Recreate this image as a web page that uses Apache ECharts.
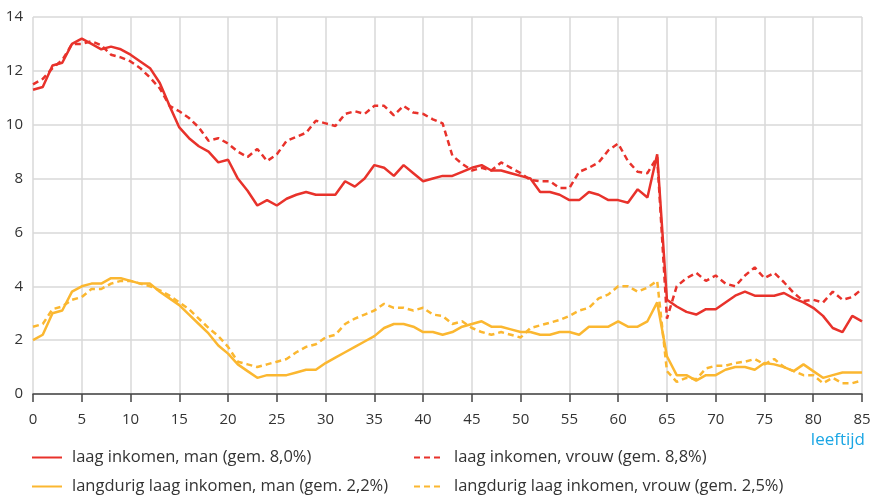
<!DOCTYPE html>
<html>
<head>
<meta charset="utf-8">
<title>laag inkomen naar leeftijd</title>
<script src="https://cdn.jsdelivr.net/npm/echarts@6/dist/echarts.min.js"></script>
<style>
  html, body { margin: 0; padding: 0; background: #fff; }
  #lijn1 { width: 877px; height: 496px; }
</style>
</head>
<body>
<div id="lijn1"></div>
<script>
// leeftijd 0 t/m 85
var ages = [];
for (var a = 0; a <= 85; a++) { ages.push(a); }

var yTicks = [0, 2, 4, 6, 8, 10, 12, 14];

var seriesNames = [
  'laag inkomen, man (gem. 8,0%)',
  'laag inkomen, vrouw (gem. 8,8%)',
  'langdurig laag inkomen, man (gem. 2,2%)',
  'langdurig laag inkomen, vrouw (gem. 2,5%)'
];

var laagMan = [11.3, 11.4, 12.2, 12.3, 13.0, 13.2, 13.0, 12.8, 12.9, 12.8,
  12.6, 12.35, 12.1, 11.55, 10.7, 9.9, 9.5, 9.2, 9.0, 8.6,
  8.7, 8.0, 7.55, 7.0, 7.2, 7.0, 7.25, 7.4, 7.5, 7.4,
  7.4, 7.4, 7.9, 7.7, 8.0, 8.5, 8.4, 8.1, 8.5, 8.2,
  7.9, 8.0, 8.1, 8.1, 8.25, 8.4, 8.5, 8.3, 8.3, 8.2,
  8.1, 8.0, 7.5, 7.5, 7.4, 7.2, 7.2, 7.5, 7.4, 7.2,
  7.2, 7.1, 7.6, 7.3, 8.9, 3.5, 3.25, 3.05, 2.95, 3.15,
  3.15, 3.4, 3.65, 3.8, 3.65, 3.65, 3.65, 3.75, 3.55, 3.4,
  3.2, 2.9, 2.45, 2.3, 2.9, 2.7];

var laagVrouw = [11.5, 11.7, 12.1, 12.4, 13.0, 13.0, 13.1, 12.95, 12.6, 12.5,
  12.35, 12.1, 11.75, 11.35, 10.7, 10.5, 10.25, 9.9, 9.4, 9.5,
  9.3, 9.0, 8.8, 9.1, 8.65, 8.9, 9.4, 9.55, 9.7, 10.15,
  10.05, 9.95, 10.4, 10.5, 10.4, 10.7, 10.7, 10.35, 10.7, 10.45,
  10.4, 10.2, 10.05, 8.85, 8.55, 8.3, 8.4, 8.3, 8.6, 8.4,
  8.2, 7.95, 7.9, 7.9, 7.65, 7.65, 8.25, 8.4, 8.6, 9.05,
  9.3, 8.65, 8.25, 8.2, 8.8, 2.8, 4.0, 4.3, 4.5, 4.2,
  4.4, 4.1, 4.0, 4.4, 4.7, 4.3, 4.5, 4.15, 3.75, 3.45,
  3.5, 3.4, 3.8, 3.5, 3.6, 3.9];

var langMan = [2.0, 2.2, 3.0, 3.1, 3.8, 4.0, 4.1, 4.1, 4.3, 4.3,
  4.2, 4.1, 4.1, 3.8, 3.55, 3.3, 2.95, 2.6, 2.25, 1.8,
  1.5, 1.1, 0.85, 0.6, 0.7, 0.7, 0.7, 0.8, 0.9, 0.9,
  1.15, 1.35, 1.55, 1.75, 1.95, 2.15, 2.45, 2.6, 2.6, 2.5,
  2.3, 2.3, 2.2, 2.3, 2.5, 2.6, 2.7, 2.5, 2.5, 2.4,
  2.3, 2.3, 2.2, 2.2, 2.3, 2.3, 2.2, 2.5, 2.5, 2.5,
  2.7, 2.5, 2.5, 2.7, 3.4, 1.4, 0.7, 0.7, 0.5, 0.7,
  0.7, 0.9, 1.0, 1.0, 0.9, 1.15, 1.1, 1.0, 0.85, 1.1,
  0.85, 0.6, 0.7, 0.8, 0.8, 0.8];

var langVrouw = [2.5, 2.6, 3.15, 3.25, 3.5, 3.6, 3.9, 3.9, 4.1, 4.2,
  4.2, 4.1, 4.0, 3.85, 3.65, 3.4, 3.15, 2.8, 2.45, 2.15,
  1.75, 1.2, 1.1, 1.0, 1.1, 1.2, 1.3, 1.55, 1.75, 1.85,
  2.1, 2.2, 2.6, 2.8, 2.95, 3.1, 3.35, 3.2, 3.2, 3.1,
  3.2, 2.95, 2.9, 2.6, 2.7, 2.45, 2.3, 2.2, 2.3, 2.2,
  2.1, 2.45, 2.55, 2.65, 2.75, 2.9, 3.1, 3.2, 3.55, 3.7,
  4.0, 4.0, 3.8, 3.95, 4.2, 0.85, 0.45, 0.6, 0.55, 0.95,
  1.05, 1.05, 1.15, 1.2, 1.3, 1.1, 1.3, 1.0, 0.85, 0.7,
  0.7, 0.4, 0.6, 0.4, 0.4, 0.5];

var rood = '#e8322b';
var geel = '#fbb730';
var fontFam = '"Open Sans", "Noto Sans", sans-serif';

function pairs(vals) {
  return ages.map(function (x, i) { return [x, vals[i]]; });
}

function lijn(name, vals, color, dashed) {
  return {
    name: name,
    type: 'line',
    data: pairs(vals),
    symbol: 'none',
    animation: false,
    lineStyle: {
      color: color,
      width: 2.5,
      type: dashed ? [6, 4] : 'solid'
    },
    itemStyle: { color: color }
  };
}

// één legenda per item, zodat de plek vast ligt
function legendaItem(name, left, top) {
  return {
    left: left,
    top: top,
    padding: 0,
    itemWidth: 30,
    itemHeight: 14,
    itemStyle: { opacity: 0 },
    data: [name],
    textStyle: {
      color: '#333',
      fontSize: 16.5,
      lineHeight: 14,
      fontFamily: fontFam,
      padding: [0, 0, 0, 5]
    }
  };
}

var myChart1 = echarts.init(document.getElementById('lijn1'));

myChart1.setOption({
  animation: false,
  grid: {
    left: 33,
    right: 15,
    top: 17,
    bottom: 102
  },
  xAxis: {
    type: 'value',
    min: 0,
    max: 85,
    interval: 5,
    axisLine: {
      show: true,
      lineStyle: { color: '#444', width: 1.5 }
    },
    axisTick: {
      show: true,
      length: 8,
      lineStyle: { color: '#444', width: 1.5 }
    },
    axisLabel: {
      margin: 18,
      color: '#333',
      fontSize: 15,
      fontFamily: fontFam
    },
    splitLine: {
      show: true,
      lineStyle: { color: '#d9d9d9', width: 1.5 }
    }
  },
  yAxis: {
    type: 'value',
    min: yTicks[0],
    max: yTicks[yTicks.length - 1],
    interval: 2,
    axisLine: { show: false },
    axisTick: { show: false },
    axisLabel: {
      margin: 10,
      color: '#333',
      fontSize: 15,
      fontFamily: fontFam
    },
    splitLine: {
      show: true,
      lineStyle: { color: '#d9d9d9', width: 1.5 }
    }
  },
  legend: [
    legendaItem(seriesNames[0], 31, 449),
    legendaItem(seriesNames[2], 31, 478),
    legendaItem(seriesNames[1], 413, 449),
    legendaItem(seriesNames[3], 413, 478)
  ],
  graphic: [
    {
      type: 'text',
      right: 12,
      top: 432,
      style: {
        text: 'leeftijd',
        fill: '#1aa6e4',
        font: '17px ' + fontFam
      }
    }
  ],
  series: [
    lijn(seriesNames[0], laagMan, rood, false),
    lijn(seriesNames[1], laagVrouw, rood, true),
    lijn(seriesNames[2], langMan, geel, false),
    lijn(seriesNames[3], langVrouw, geel, true)
  ]
});
</script>
</body>
</html>
